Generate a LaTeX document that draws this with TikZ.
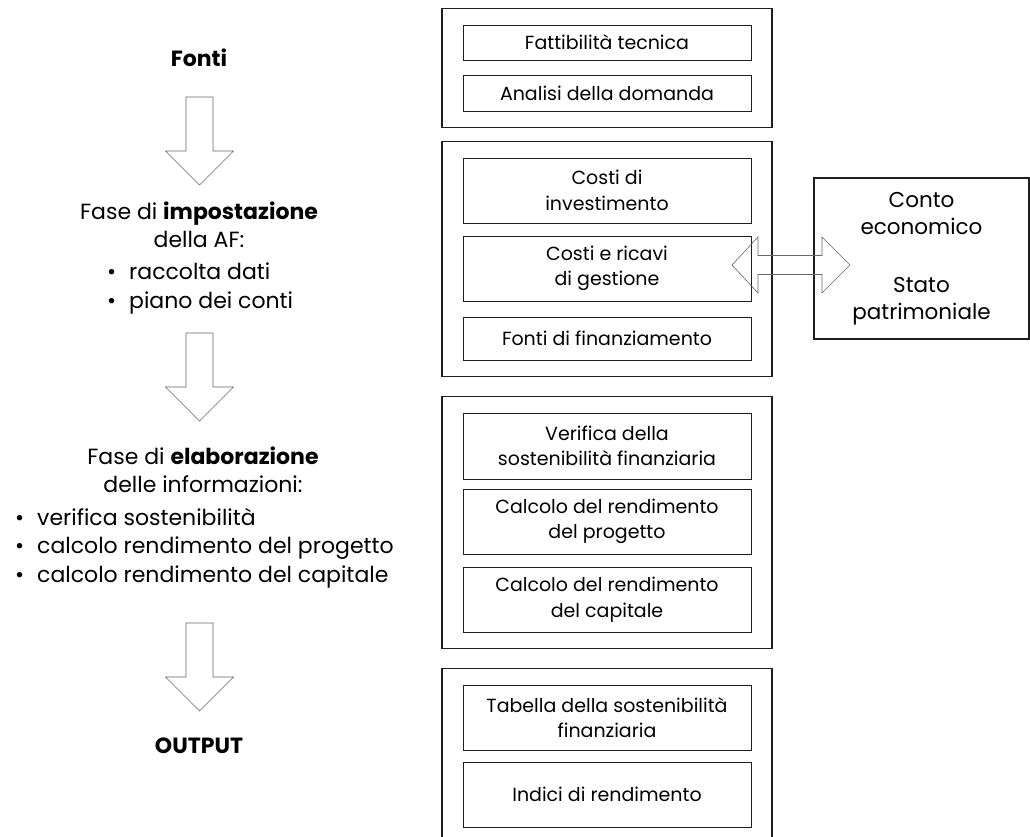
\documentclass[tikz,border=0pt]{standalone}
\usepackage{fontspec}
\setmainfont{Poppins}
\usepackage{tikz}
\usetikzlibrary{calc, fit, positioning}
\usepackage{xcolor}
\definecolor{RichBlack}{gray}{0.12}
\definecolor{ArrowGray}{gray}{0.40}
\tikzset{%
  group_block/.style={%
    rectangle,%
    draw=RichBlack,%
    line width=1.3pt,%
    inner xsep=20.5pt,%
    inner ysep=16pt,%
  },
  item_block/.style={%
    rectangle,%
    draw=RichBlack,%
    line width=0.9pt,%
    minimum width=288pt,%
    inner sep=0pt,%
    align=center,%
    font={\fontsize{19}{25.5}\selectfont},%
  },
  result_block/.style={%
    rectangle,%
    draw=RichBlack,%
    line width=1.1pt,%
    minimum width=215pt,%
    minimum height=161pt,%
    inner sep=0pt,%
    align=center,%
    font={\fontsize{21.5}{27}\selectfont},%
  },
  phase_text/.style={%
    inner sep=0pt,%
    align=center,%
    font={\fontsize{22}{28.5}\selectfont},%
  },
  phase_list/.style={%
    inner sep=0pt,%
    align=left,%
    font={\fontsize{22}{28.5}\selectfont},%
  },
  hollow_arrow/.style={%
    draw=ArrowGray,%
    line width=0.6pt,%
    line join=miter,%
  },
}
\newcommand{\itembullet}{\makebox[22pt][l]{\textbullet}}

\begin{document}
\begin{tikzpicture}[x=1pt, y=-1pt]

          \useasboundingbox (0,0) rectangle (1030,837);

          % left column: phases
          \node [phase_text, anchor=base] (Fonti) at (199,67) {\textbf{Fonti}};
          \node [phase_text, anchor=north] (Impostazione) at (199,201.5)
            {Fase di \textbf{impostazione}\\della AF:};
          \node [phase_list, anchor=north west] (Impostazione_list) at (107,263)
            {\itembullet raccolta dati\\\itembullet piano dei conti};
          \node [phase_text, anchor=north] (Elaborazione) at (203,446.5)
            {Fase di \textbf{elaborazione}\\delle informazioni:};
          \node [phase_list, anchor=north west] (Elaborazione_list) at (15,508)
            {\itembullet verifica sostenibilità\\\itembullet calcolo rendimento del progetto\\\itembullet calcolo rendimento del capitale};
          \node [phase_text, anchor=base] (Output) at (199,753) {\textbf{OUTPUT}};

          % hollow arrows between the phases
          \coordinate (Arrow1) at (199.5,97);
          \coordinate (Arrow2) at (199.5,333);
          \coordinate (Arrow3) at (199.5,623);
          \draw [hollow_arrow]
            (Arrow1) -- ++(13.5,0) -- ++(0,54) -- ++(20.5,0) -- ++(-34,34)
            -- ++(-34,-34) -- ++(20.5,0) -- ++(0,-54) -- cycle;
          \draw [hollow_arrow]
            (Arrow2) -- ++(13.5,0) -- ++(0,54) -- ++(20.5,0) -- ++(-34,34)
            -- ++(-34,-34) -- ++(20.5,0) -- ++(0,-54) -- cycle;
          \draw [hollow_arrow]
            (Arrow3) -- ++(13.5,0) -- ++(0,54) -- ++(20.5,0) -- ++(-34,34)
            -- ++(-34,-34) -- ++(20.5,0) -- ++(0,-54) -- cycle;

          % right column: blocks
          \node [item_block, minimum height=35pt] (Fattibilita) at (607,42.5) {Fattibilità tecnica};
          \node [item_block, minimum height=36pt] (Analisi) at (607,93) {Analisi della domanda};
          \node [group_block, fit=(Fattibilita)(Analisi)] (Group1) {};

          \node [item_block, minimum height=65pt] (Investimento) at (607,190.5) {Costi di\\investimento};
          \node [item_block, minimum height=65pt] (Gestione) at (607,268.5) {Costi e ricavi\\di gestione};
          \node [item_block, minimum height=43pt] (Finanziamento) at (607,338.5) {Fonti di finanziamento};
          \node [group_block, fit=(Investimento)(Finanziamento)] (Group2) {};

          \node [item_block, minimum height=66pt] (Sostenibilita) at (607,446) {Verifica della\\sostenibilità finanziaria};
          \node [item_block, minimum height=65pt] (Progetto) at (607,521.5) {Calcolo del rendimento\\del progetto};
          \node [item_block, minimum height=65pt] (Capitale) at (607,599.5) {Calcolo del rendimento\\del capitale};
          \node [group_block, fit=(Sostenibilita)(Capitale)] (Group3) {};

          \node [item_block, minimum height=65pt] (Tabella) at (607,717.5) {Tabella della sostenibilità\\finanziaria};
          \node [item_block, minimum height=65pt] (Indici) at (607,794.5) {Indici di rendimento};
          \node [group_block, fit=(Tabella)(Indici)] (Group4) {};

          \node [result_block] (Conto) at (921.5,258.5)
            {Conto\\economico\\[31pt]Stato\\patrimoniale};

          % double hollow arrow between Gestione and Conto
          \coordinate (Link) at ($(Gestione.east)!0.5!(Conto.west) + (8.5,1.5)$);
          \draw [hollow_arrow]
            (Link) ++(-59,0) -- ++(26,-28) -- ++(0,18.5) -- ++(64,0) -- ++(0,-18.5)
            -- ++(28,28) -- ++(-28,28) -- ++(0,-18.5) -- ++(-64,0) -- ++(0,18.5) -- cycle;
        \end{tikzpicture}
\end{document}
